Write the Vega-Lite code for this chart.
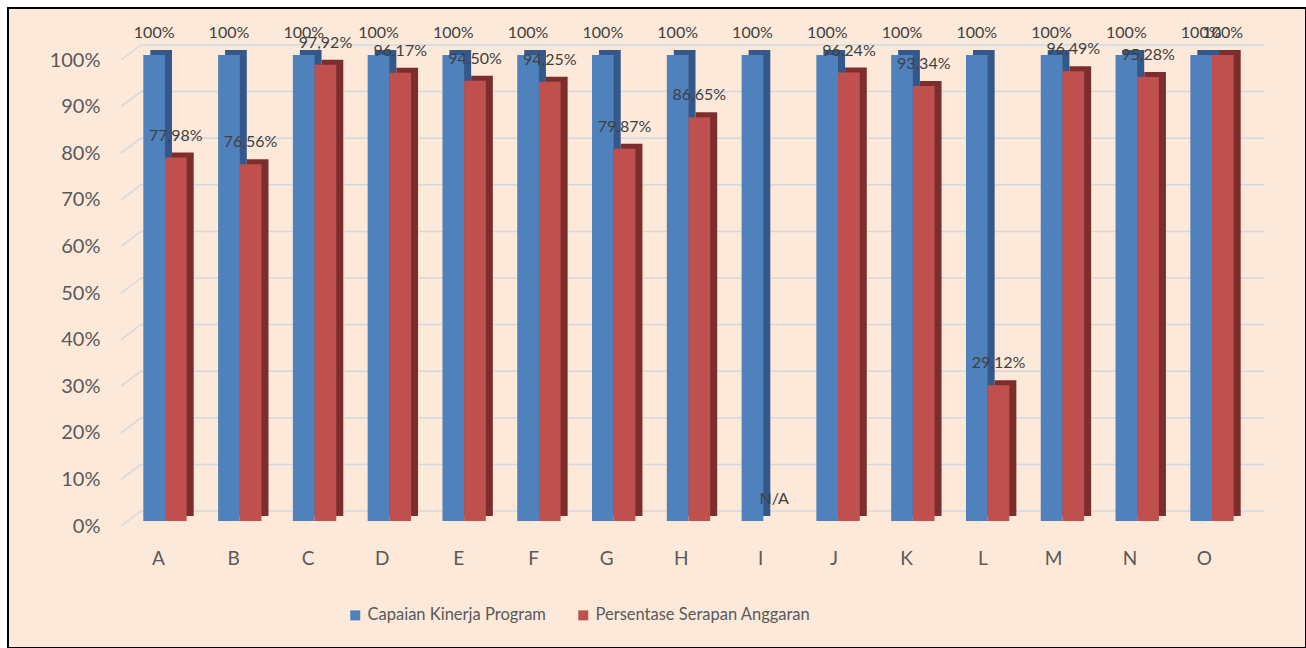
{
  "$schema": "https://vega.github.io/schema/vega-lite/v6.json",
  "autosize": {"type": "none"},
  "padding": {"left": 8, "top": 8, "right": 0, "bottom": 0},
  "width": 1298,
  "height": 640,
  "background": "#FFFFFF",
  "datasets": {
    "bars": [
      {"cat": "A", "series": "Capaian Kinerja Program", "value": 1.0, "label": "100%"},
      {"cat": "A", "series": "Persentase Serapan Anggaran", "value": 0.7798, "label": "77,98%"},
      {"cat": "B", "series": "Capaian Kinerja Program", "value": 1.0, "label": "100%"},
      {"cat": "B", "series": "Persentase Serapan Anggaran", "value": 0.7656, "label": "76,56%"},
      {"cat": "C", "series": "Capaian Kinerja Program", "value": 1.0, "label": "100%"},
      {"cat": "C", "series": "Persentase Serapan Anggaran", "value": 0.9792, "label": "97,92%"},
      {"cat": "D", "series": "Capaian Kinerja Program", "value": 1.0, "label": "100%"},
      {"cat": "D", "series": "Persentase Serapan Anggaran", "value": 0.9617, "label": "96,17%"},
      {"cat": "E", "series": "Capaian Kinerja Program", "value": 1.0, "label": "100%"},
      {"cat": "E", "series": "Persentase Serapan Anggaran", "value": 0.945, "label": "94,50%"},
      {"cat": "F", "series": "Capaian Kinerja Program", "value": 1.0, "label": "100%"},
      {"cat": "F", "series": "Persentase Serapan Anggaran", "value": 0.9425, "label": "94,25%"},
      {"cat": "G", "series": "Capaian Kinerja Program", "value": 1.0, "label": "100%"},
      {"cat": "G", "series": "Persentase Serapan Anggaran", "value": 0.7987, "label": "79,87%"},
      {"cat": "H", "series": "Capaian Kinerja Program", "value": 1.0, "label": "100%"},
      {"cat": "H", "series": "Persentase Serapan Anggaran", "value": 0.8665, "label": "86,65%"},
      {"cat": "I", "series": "Capaian Kinerja Program", "value": 1.0, "label": "100%"},
      {"cat": "I", "series": "Persentase Serapan Anggaran", "value": 0, "label": "N/A"},
      {"cat": "J", "series": "Capaian Kinerja Program", "value": 1.0, "label": "100%"},
      {"cat": "J", "series": "Persentase Serapan Anggaran", "value": 0.9624, "label": "96,24%"},
      {"cat": "K", "series": "Capaian Kinerja Program", "value": 1.0, "label": "100%"},
      {"cat": "K", "series": "Persentase Serapan Anggaran", "value": 0.9334, "label": "93,34%"},
      {"cat": "L", "series": "Capaian Kinerja Program", "value": 1.0, "label": "100%"},
      {"cat": "L", "series": "Persentase Serapan Anggaran", "value": 0.2912, "label": "29,12%"},
      {"cat": "M", "series": "Capaian Kinerja Program", "value": 1.0, "label": "100%"},
      {"cat": "M", "series": "Persentase Serapan Anggaran", "value": 0.9649, "label": "96,49%"},
      {"cat": "N", "series": "Capaian Kinerja Program", "value": 1.0, "label": "100%"},
      {"cat": "N", "series": "Persentase Serapan Anggaran", "value": 0.9528, "label": "95,28%"},
      {"cat": "O", "series": "Capaian Kinerja Program", "value": 1.0, "label": "100%"},
      {"cat": "O", "series": "Persentase Serapan Anggaran", "value": 1.0, "label": "100%"}
    ],
    "ticks": [
      {"tick": 0}, {"tick": 0.1}, {"tick": 0.2}, {"tick": 0.3}, {"tick": 0.4}, {"tick": 0.5},
      {"tick": 0.6}, {"tick": 0.7}, {"tick": 0.8}, {"tick": 0.9}, {"tick": 1.0}
    ]
  },
  "resolve": {"scale": {"color": "shared", "xOffset": "independent"}},
  "layer": [
    {
      "data": {"name": "ticks"},
      "mark": {"type": "rule", "color": "#D3D8DF", "strokeWidth": 1.5, "xOffset": -22.3, "x2Offset": -2.3, "yOffset": 5, "y2Offset": -10},
      "encoding": {
        "x": {"datum": "A", "type": "nominal", "bandPosition": 0, "scale": {"type": "band", "range": [119.6, 1241.4], "paddingInner": 0.42, "paddingOuter": 0.21}},
        "x2": {"datum": "A", "bandPosition": 0},
        "y": {"field": "tick", "type": "quantitative", "scale": {"domain": [0, 1], "range": [513, 47], "nice": false}},
        "y2": {"field": "tick"}
      }
    },
    {
      "data": {"name": "ticks"},
      "mark": {"type": "rule", "color": "#D3D8DF", "strokeWidth": 1.5, "xOffset": -2.3, "x2Offset": 30.7, "yOffset": -10, "y2Offset": -10},
      "encoding": {
        "x": {"datum": "A", "type": "nominal", "bandPosition": 0},
        "x2": {"datum": "O", "bandPosition": 1},
        "y": {"field": "tick", "type": "quantitative"}
      }
    },
    {
      "data": {"name": "bars"},
      "mark": {"type": "bar", "yOffset": -5, "y2Offset": 0},
      "encoding": {
        "x": {"field": "cat", "type": "nominal"},
        "xOffset": {"field": "series", "type": "nominal", "scale": {"range": [7, 50.4], "paddingInner": 0, "paddingOuter": 0}},
        "y": {"field": "value", "type": "quantitative"},
        "fill": {"condition": {"test": "datum.series === 'Capaian Kinerja Program'", "value": "#34588A"}, "value": "#7C2E2C"}
      }
    },
    {
      "data": {"name": "bars"},
      "resolve": {"scale": {"xOffset": "shared"}},
      "layer": [
        {
          "mark": {"type": "bar"},
          "encoding": {
            "x": {
              "field": "cat", "type": "nominal",
              "axis": {"orient": "bottom", "offset": -90, "title": null, "domain": false, "ticks": false, "labelAngle": 0, "labelPadding": 0, "labelBaseline": "middle", "labelFontSize": 19, "labelColor": "#595959", "labelFont": "Lato", "labelDx": -5}
            },
            "xOffset": {"field": "series", "type": "nominal", "scale": {"paddingInner": 0, "paddingOuter": 0}},
            "y": {
              "field": "value", "type": "quantitative",
              "axis": {"orient": "left", "offset": -100, "title": null, "domain": false, "ticks": false, "grid": false, "values": [0, 0.1, 0.2, 0.3, 0.4, 0.5, 0.6, 0.7, 0.8, 0.9, 1.0], "format": ".0%", "labelPadding": 8, "labelOffset": 5, "labelFontSize": 20, "labelColor": "#595959", "labelFont": "Lato"}
            },
            "color": {
              "field": "series", "type": "nominal",
              "scale": {"domain": ["Capaian Kinerja Program", "Persentase Serapan Anggaran"], "range": ["#4F81BD", "#C0504D"]},
              "legend": {"orient": "none", "legendX": 339, "legendY": 599, "direction": "horizontal", "title": null, "symbolType": "square", "symbolSize": 100, "symbolStrokeWidth": 0, "labelFontSize": 16.5, "labelColor": "#595959", "labelFont": "Lato", "labelOffset": 4, "labelLimit": 0, "columnPadding": 29, "padding": 0}
            }
          }
        },
        {
          "mark": {"type": "text", "dy": -22, "fontSize": 16, "color": "#404040", "font": "Lato", "baseline": "middle", "align": "center"},
          "encoding": {
            "x": {"field": "cat", "type": "nominal"},
            "xOffset": {"field": "series", "type": "nominal"},
            "y": {"field": "value", "type": "quantitative"},
            "text": {"field": "label"}
          }
        }
      ]
    }
  ],
  "config": {
    "font": "Lato",
    "view": {"fill": "#FDE9D9", "stroke": "#000000", "strokeWidth": 2}
  }
}
